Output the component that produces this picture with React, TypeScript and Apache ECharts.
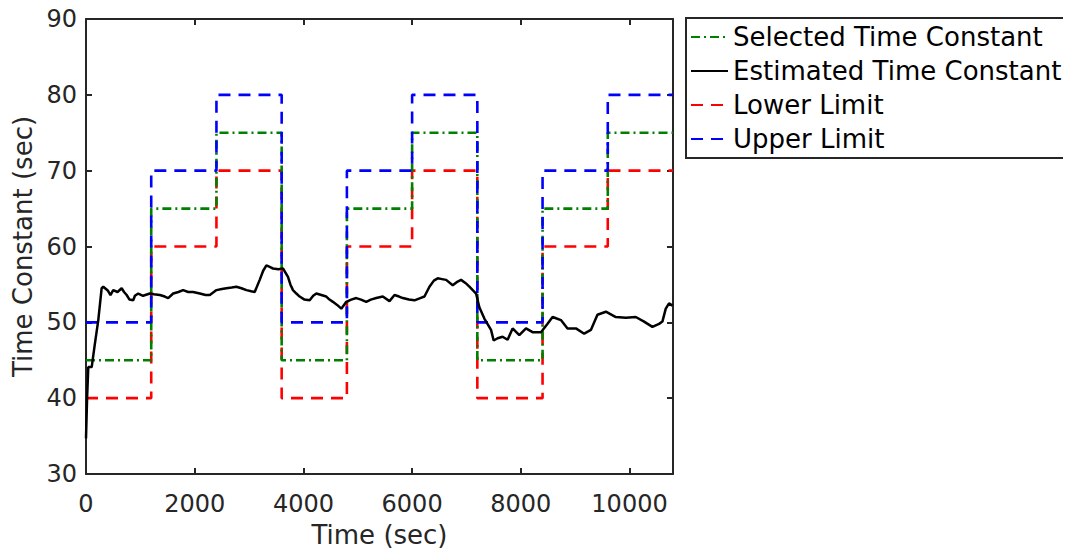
import React, { useEffect, useRef } from "react";
import * as echarts from "echarts";

const stepTimes = [0, 1200, 2400, 3600, 4800, 6000, 7200, 8400, 9600, 10800];
const selectedValues = [45, 65, 75, 45, 65, 75, 45, 65, 75, 75];
const lowerValues = [40, 60, 70, 40, 60, 70, 40, 60, 70, 70];
const upperValues = [50, 70, 80, 50, 70, 80, 50, 70, 80, 80];

const estimatedTimes = [
  0, 20, 42, 105, 160, 226, 288, 318, 400, 450, 501, 580, 656, 700, 748, 800, 869, 900, 961, 1050, 1176,
  1250, 1359, 1450, 1512, 1604, 1700, 1787, 1880, 1971, 2094, 2200, 2278, 2401, 2500, 2584, 2680, 2768,
  2860, 2952, 3040, 3104, 3196, 3260, 3319, 3380, 3440, 3540, 3624, 3716, 3760, 3808, 3870, 3931, 4020,
  4115, 4180, 4238, 4330, 4421, 4480, 4543, 4620, 4697, 4789, 4880, 4972, 5060, 5156, 5240, 5340, 5400,
  5461, 5584, 5676, 5760, 5829, 5940, 6043, 6150, 6227, 6319, 6400, 6471, 6550, 6626, 6747, 6820, 6901,
  6980, 7054, 7177, 7237, 7329, 7452, 7500, 7573, 7665, 7757, 7849, 7972, 8095, 8216, 8371, 8492, 8584,
  8660, 8738, 8859, 9014, 9166, 9289, 9410, 9565, 9748, 9932, 10115, 10268, 10421, 10544, 10605, 10667,
  10727, 10788,
];
const estimatedValues = [
  34.7, 40, 44.1, 44.1, 47, 50.3, 54.5, 54.7, 54.2, 53.6, 54.25, 54.0, 54.5, 54.0, 53.6, 53.0, 52.9, 53.5,
  53.8, 53.5, 53.8, 53.7, 53.6, 53.4, 53.2, 53.8, 54.0, 54.25, 54.0, 54.0, 53.8, 53.6, 53.6, 54.25, 54.4,
  54.5, 54.6, 54.7, 54.5, 54.25, 54.1, 54.0, 55.6, 56.8, 57.5, 57.3, 57.1, 57.0, 57.1, 56.0, 55.0, 54.25,
  53.8, 53.4, 53.0, 52.9, 53.5, 53.8, 53.6, 53.4, 53.0, 52.7, 52.3, 51.8, 52.7, 53.0, 53.2, 53.0, 52.7,
  53.0, 53.2, 53.3, 53.4, 52.8, 53.6, 53.4, 53.2, 53.0, 52.9, 53.2, 53.4, 54.7, 55.5, 55.8, 55.7, 55.6,
  54.9, 55.3, 55.6, 55.2, 54.7, 53.8, 52.0, 50.5, 49.0, 47.6, 47.9, 48.1, 47.7, 49.2, 48.3, 49.2, 48.7,
  48.7, 49.8, 50.7, 50.5, 50.3, 49.2, 49.2, 48.5, 49.0, 51.0, 51.4, 50.7, 50.6, 50.7, 50.1, 49.4, 49.8,
  50.1, 51.8, 52.5, 52.2,
];

const xTicks = { min: 0, max: 10800, interval: 2000 };
const yTicks = { min: 30, max: 90, interval: 10 };

const FONT = "DejaVu Sans";
const TXT = "#262626";

export default function App() {
  const ref = useRef<HTMLDivElement>(null);
  useEffect(() => {
    if (!ref.current) return;
    const chart = echarts.init(ref.current, undefined, { renderer: "svg" });
    const pair = (xs: number[], ys: number[]) => xs.map((x, i) => [x, ys[i]]);
    const axisCommon = {
      type: "value" as const,
      axisLine: { show: true, onZero: false, lineStyle: { color: TXT, width: 2 } },
      axisTick: { show: true, inside: true, length: 6, lineStyle: { color: TXT, width: 2 } },
      splitLine: { show: false },
    };
    chart.setOption({
      animation: false,
      backgroundColor: "#ffffff",
      grid: { left: 86, right: 398, top: 19, bottom: 82, containLabel: false },
      legend: {
        orient: "vertical",
        left: 686,
        top: 18,
        padding: [6, 10, 6, 4],
        itemGap: 8,
        itemWidth: 37,
        itemHeight: 14,
        borderColor: TXT,
        borderWidth: 2,
        backgroundColor: "#ffffff",
        itemStyle: { opacity: 0 },
        textStyle: { fontFamily: FONT, fontSize: 26, color: "#000" },
        data: ["Selected Time Constant", "Estimated Time Constant", "Lower Limit", "Upper Limit"],
      },
      xAxis: [
        {
          ...axisCommon,
          position: "bottom",
          ...xTicks,
          name: "Time (sec)",
          nameLocation: "middle",
          nameGap: 48,
          nameTextStyle: { fontFamily: FONT, fontSize: 26, color: TXT },
          axisLabel: {
            fontFamily: FONT,
            fontSize: 24,
            color: TXT,
            margin: 18,
            showMaxLabel: false,
            formatter: (v: number) => String(v),
          },
        },
        {
          ...axisCommon,
          position: "top",
          ...xTicks,
          axisLabel: { show: false },
        },
      ],
      yAxis: [
        {
          ...axisCommon,
          position: "left",
          ...yTicks,
          name: "Time Constant (sec)",
          nameLocation: "middle",
          nameGap: 48,
          nameTextStyle: { fontFamily: FONT, fontSize: 26, color: TXT },
          axisLabel: { fontFamily: FONT, fontSize: 24, color: TXT, margin: 9 },
        },
        {
          ...axisCommon,
          position: "right",
          ...yTicks,
          axisLabel: { show: false },
        },
      ],
      series: [
        {
          name: "Selected Time Constant",
          type: "line",
          step: "end",
          symbol: "none",
          data: pair(stepTimes, selectedValues),
          lineStyle: { color: "#008000", width: 2.6, type: [9, 4, 2, 4] },
          itemStyle: { color: "#008000" },
          z: 3,
        },
        {
          name: "Estimated Time Constant",
          type: "line",
          symbol: "none",
          data: pair(estimatedTimes, estimatedValues),
          lineStyle: { color: "#000000", width: 2.5 },
          itemStyle: { color: "#000000" },
          z: 5,
        },
        {
          name: "Lower Limit",
          type: "line",
          step: "end",
          symbol: "none",
          data: pair(stepTimes, lowerValues),
          lineStyle: { color: "#ff0000", width: 2.6, type: [12, 8] },
          itemStyle: { color: "#ff0000" },
          z: 2,
        },
        {
          name: "Upper Limit",
          type: "line",
          step: "end",
          symbol: "none",
          data: pair(stepTimes, upperValues),
          lineStyle: { color: "#0000ff", width: 2.6, type: [12, 8] },
          itemStyle: { color: "#0000ff" },
          z: 4,
        },
      ],
    });
    return () => chart.dispose();
  }, []);
  return <div ref={ref} style={{ width: 1071, height: 556, margin: -8 }} />;
}
